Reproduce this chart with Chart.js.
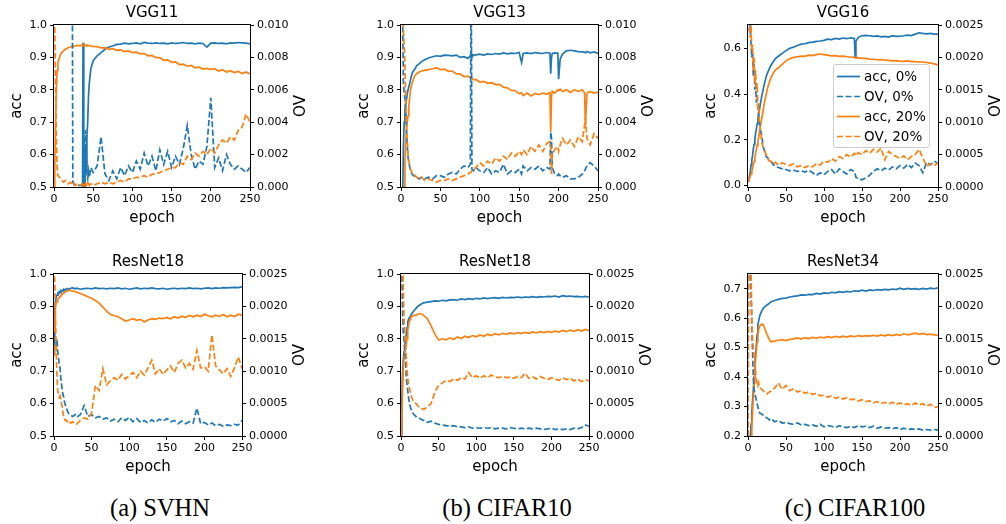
<!DOCTYPE html>
<html>
<head>
<meta charset="utf-8">
<script src="https://cdn.jsdelivr.net/npm/chart.js@4.4.1/dist/chart.umd.min.js"></script>
<style>
  body { margin: 0; background: #fff; }
  #fig { position: relative; width: 1006px; height: 524px; overflow: hidden; background: #fff; }
  #fig canvas { position: absolute; }
  .cap { position: absolute; top: 493px; width: 260px; height: 30px; line-height: 30px; text-align: center;
         font-family: "Liberation Serif", "Times New Roman", serif; font-size: 24.5px; color: #000; }
  #legend { position: absolute; left: 833px; top: 64px; width: 97px; height: 84px; box-sizing: border-box;
            background: rgba(255,255,255,0.8); border: 1px solid #ccc; border-radius: 3px;
            font-family: "DejaVu Sans"; font-size: 13.5px; color: #000; }
  #legend .row { position: absolute; left: 0; height: 18px; line-height: 18px; white-space: nowrap; }
  #legend svg { position: absolute; left: 3px; top: 8px; }
  #legend span { position: absolute; left: 30px; top: 0; }
</style>
</head>
<body>
<div id="fig"></div>
<script>
// ---- data ----
var X_TICKS = [0, 50, 100, 150, 200, 250];
var ACC_TICKS_HI = [0.5, 0.6, 0.7, 0.8, 0.9, 1.0];
var ACC_LABELS_HI = ["0.5", "0.6", "0.7", "0.8", "0.9", "1.0"];
var ACC_TICKS_VGG16 = [0.0, 0.2, 0.4, 0.6];
var ACC_LABELS_VGG16 = ["0.0", "0.2", "0.4", "0.6"];
var ACC_TICKS_RES34 = [0.2, 0.3, 0.4, 0.5, 0.6, 0.7];
var ACC_LABELS_RES34 = ["0.2", "0.3", "0.4", "0.5", "0.6", "0.7"];
var OV_TICKS_BIG = [0, 0.002, 0.004, 0.006, 0.008, 0.010];
var OV_LABELS_BIG = ["0.000", "0.002", "0.004", "0.006", "0.008", "0.010"];
var OV_TICKS_SMALL = [0, 0.0005, 0.0010, 0.0015, 0.0020, 0.0025];
var OV_LABELS_SMALL = ["0.0000", "0.0005", "0.0010", "0.0015", "0.0020", "0.0025"];
var LEGEND_LABELS = ["acc, 0%", "OV, 0%", "acc, 20%", "OV, 20%"];
var CAPTIONS = ["(a) SVHN", "(b) CIFAR10", "(c) CIFAR100"];

// VGG11 / SVHN
var EP_VGG11 = [0,1,2,3,4,5,7,9,12,15, 18,21,23,24,25,27,30,33,36,37, 38,39,40,41,42,43,44,45,47,50,
  55,60,65,70,75,80,85,90,95,100, 105,110,115,120,125,130,135,140,145,150, 155,160,165,170,175,180,185,190,195,200,
  205,210,215,220,225,230,235,240,245,250];
var ACC0_VGG11 = [0.19,0.19,0.19,0.19,0.19,0.19,0.19,0.19,0.19,0.19, 0.19,0.19,0.19,0.19,0.19,0.19,0.19,0.19,0.19,0.945,
  0.20,0.20,0.62,0.55,0.66,0.70,0.78,0.82,0.865,0.89, 0.905,0.915,0.925,0.932,0.935,0.94,0.941,0.944,0.942,0.943,
  0.945,0.942,0.946,0.944,0.943,0.945,0.943,0.944,0.942,0.945, 0.943,0.944,0.946,0.943,0.944,0.942,0.944,0.943,0.932,0.944,
  0.945,0.943,0.944,0.942,0.945,0.944,0.946,0.945,0.944,0.942];
var OV0_VGG11 = [0.02,0.02,0.02,0.02,0.02,0.02,0.02,0.02,0.02,0.02, 0.02,0.02,0.02,0.0003,0.0002,0.0001,0.0001,0.0001,0.0001,0.0002,
  0.0030,0.0018,0.0035,0.0020,0.0008,0.0005,0.0010,0.0006,0.0012,0.0009, 0.0013,0.0031,0.0008,0.0004,0.0010,0.0005,0.0012,0.0007,0.0013,0.0009,
  0.0016,0.0011,0.0021,0.0013,0.0019,0.0010,0.0023,0.0014,0.0022,0.0012, 0.0019,0.0014,0.0024,0.0038,0.0020,0.0011,0.0016,0.0014,0.0025,0.0055,
  0.0012,0.0018,0.0010,0.0020,0.0014,0.0011,0.0013,0.0011,0.0009,0.0012];
var ACC20_VGG11 = [0.45,0.56,0.70,0.80,0.86,0.885,0.90,0.912,0.92,0.926, 0.93,0.932,0.934,0.933,0.935,0.936,0.937,0.936,0.938,0.937,
  0.939,0.936,0.938,0.937,0.936,0.938,0.937,0.936,0.935,0.934, 0.933,0.929,0.930,0.925,0.927,0.922,0.923,0.918,0.920,0.915,
  0.916,0.911,0.912,0.905,0.906,0.899,0.899,0.891,0.892,0.885, 0.886,0.878,0.879,0.873,0.875,0.868,0.870,0.864,0.866,0.863,
  0.865,0.858,0.862,0.855,0.859,0.853,0.857,0.850,0.855,0.849];
var OV20_VGG11 = [0.012,0.0098,0.006,0.003,0.0012,0.0007,0.0006,0.0005,0.0003,0.0004, 0.0002,0.0003,0.0002,0.0002,0.0003,0.0001,0.0002,0.0001,0.0002,0.0001,
  0.0002,0.0001,0.0002,0.0001,0.0002,0.0001,0.0002,0.0001,0.0002,0.0001, 0.0002,0.0003,0.0002,0.0003,0.0002,0.0003,0.0004,0.0003,0.0005,0.0005,
  0.0006,0.0006,0.0007,0.0006,0.0008,0.0008,0.0009,0.0010,0.0011,0.0012, 0.0012,0.0015,0.0014,0.0019,0.0017,0.0021,0.0019,0.0022,0.0020,0.0024,
  0.0021,0.0026,0.0029,0.0027,0.0031,0.0029,0.0035,0.0037,0.0045,0.0040];

// VGG13 / CIFAR10
var EP_VGG13 = [0,1,2,3,4,5,6,7,8,9, 10,12,14,16,18,20,23,26,30,35, 40,45,50,55,60,65,70,75,80,85,
  88,89,90,92,95,100,105,110,115,120, 125,130,135,140,145,150,153,155,160,165, 170,175,180,185,189,190,191,192,195,199,
  200,202,205,210,215,220,225,230,233,234, 236,240,245,250];
var ACC0_VGG13 = [0.30,0.35,0.45,0.62,0.70,0.74,0.76,0.77,0.79,0.80, 0.80,0.83,0.85,0.86,0.865,0.875,0.88,0.887,0.893,0.898,
  0.902,0.905,0.903,0.907,0.906,0.905,0.907,0.900,0.902,0.897, 0.905,0.90,0.91,0.906,0.908,0.91,0.907,0.911,0.909,0.912,
  0.91,0.914,0.911,0.913,0.912,0.915,0.884,0.912,0.914,0.912, 0.915,0.913,0.912,0.915,0.913,0.85,0.90,0.912,0.914,0.913,
  0.833,0.895,0.91,0.92,0.922,0.92,0.918,0.917,0.916,0.914, 0.918,0.914,0.917,0.912];
var OV0_VGG13 = [0.02,0.015,0.011,0.0065,0.0058,0.0055,0.005,0.0035,0.0025,0.0018, 0.0015,0.001,0.0008,0.0007,0.0006,0.0006,0.0005,0.0006,0.0005,0.0006,
  0.0005,0.0007,0.0007,0.0006,0.0008,0.0009,0.0008,0.0011,0.0013,0.0012, 0.0014,0.015,0.0011,0.001,0.0012,0.001,0.0009,0.0012,0.0008,0.001,
  0.0009,0.0014,0.0008,0.001,0.0009,0.0011,0.0008,0.0013,0.001,0.0012, 0.0011,0.0013,0.001,0.0012,0.0011,0.0034,0.003,0.0012,0.0008,0.0007,
  0.0008,0.0007,0.0006,0.0007,0.0005,0.0005,0.0006,0.0008,0.001,0.0011, 0.0013,0.0015,0.0013,0.001];
var ACC20_VGG13 = [0.30,0.35,0.40,0.45,0.50,0.58,0.64,0.68,0.70,0.72, 0.75,0.80,0.82,0.835,0.845,0.85,0.855,0.858,0.86,0.862,
  0.865,0.868,0.862,0.864,0.857,0.858,0.85,0.849,0.841,0.842, 0.837,0.835,0.836,0.831,0.832,0.824,0.826,0.82,0.822,0.816,
  0.817,0.808,0.806,0.798,0.797,0.788,0.79,0.782,0.79,0.781, 0.789,0.785,0.79,0.786,0.792,0.67,0.78,0.795,0.79,0.80,
  0.797,0.802,0.795,0.80,0.792,0.80,0.795,0.80,0.79,0.69, 0.79,0.795,0.79,0.793];
var OV20_VGG13 = [0.015,0.012,0.0105,0.0098,0.0088,0.0075,0.0055,0.0038,0.0028,0.002, 0.0016,0.0011,0.0009,0.0008,0.0007,0.0006,0.0005,0.0006,0.0004,0.0005,
  0.0004,0.0003,0.0004,0.0004,0.0005,0.0004,0.0005,0.0006,0.0007,0.0008, 0.0009,0.0009,0.001,0.0011,0.0012,0.0015,0.0013,0.0016,0.0014,0.0018,
  0.0016,0.0019,0.0017,0.0021,0.0019,0.0022,0.002,0.0023,0.002,0.0025, 0.0022,0.0026,0.0022,0.0027,0.0028,0.0025,0.0008,0.002,0.0023,0.0025,
  0.0022,0.0026,0.003,0.0026,0.0029,0.0025,0.0031,0.0028,0.0038,0.0042, 0.003,0.0026,0.0033,0.003];

// VGG16 / CIFAR100
var EP_VGG16 = [0,1,2,3,4,5,6,7,8,9, 10,11,12,13,14,15,16,18,20,22, 24,26,28,30,33,36,40,45,50,55,
  60,65,70,75,80,85,90,95,100,105, 110,115,120,125,130,135,140,141,142,145, 150,155,160,165,170,175,180,185,190,195,
  200,205,210,215,220,225,230,235,240,245, 250];
var ACC0_VGG16 = [0.02,0.03,0.04,0.06,0.09,0.11,0.13,0.16,0.18,0.20, 0.23,0.245,0.27,0.29,0.31,0.33,0.35,0.39,0.42,0.45,
  0.477,0.495,0.51,0.525,0.54,0.555,0.565,0.578,0.59,0.60, 0.605,0.612,0.618,0.62,0.625,0.627,0.63,0.632,0.635,0.64,
  0.638,0.643,0.64,0.645,0.642,0.646,0.643,0.56,0.63,0.648, 0.655,0.657,0.655,0.652,0.654,0.65,0.652,0.649,0.655,0.652,
  0.653,0.655,0.658,0.656,0.662,0.668,0.665,0.663,0.665,0.662, 0.662];
var OV0_VGG16 = [0.003,0.0027,0.0024,0.0025,0.0022,0.002,0.0021,0.0017,0.0019,0.0015, 0.0016,0.0013,0.0014,0.0012,0.0011,0.001,0.0009,0.0008,0.00062,0.00055,
  0.00047,0.00045,0.00042,0.0004,0.00035,0.00032,0.0003,0.00028,0.00027,0.00025, 0.00026,0.00024,0.00025,0.00023,0.00026,0.00022,0.00018,0.00022,0.00019,0.00024,
  0.00027,0.0002,0.00028,0.00024,0.0002,0.00027,0.00024,0.0002,0.00015,0.00013, 0.00011,0.00014,0.00018,0.00024,0.00028,0.00025,0.00029,0.00026,0.00031,0.00028,
  0.00033,0.00029,0.00035,0.0003,0.00037,0.00033,0.00022,0.00038,0.00034,0.0004, 0.00036];
var ACC20_VGG16 = [0.02,0.025,0.03,0.04,0.05,0.06,0.075,0.09,0.105,0.12, 0.14,0.157,0.175,0.195,0.21,0.235,0.255,0.29,0.33,0.37,
  0.40,0.43,0.45,0.47,0.49,0.505,0.515,0.53,0.545,0.555, 0.56,0.563,0.566,0.565,0.57,0.568,0.572,0.575,0.572,0.57,
  0.567,0.568,0.565,0.566,0.563,0.562,0.56,0.559,0.558,0.558, 0.556,0.556,0.553,0.552,0.55,0.551,0.548,0.547,0.545,0.546,
  0.544,0.543,0.545,0.542,0.542,0.541,0.54,0.538,0.535,0.532, 0.527];
var OV20_VGG16 = [0.003,0.0028,0.0026,0.0023,0.0025,0.0021,0.0022,0.0018,0.002,0.0016, 0.0018,0.0015,0.0016,0.0012,0.0013,0.001,0.0009,0.0007,0.0006,0.00055,
  0.0005,0.00044,0.0004,0.0004,0.00036,0.00038,0.00034,0.00037,0.00035,0.00033, 0.00036,0.00031,0.00033,0.0003,0.00033,0.00031,0.00036,0.00034,0.0004,0.00038,
  0.00044,0.0004,0.00047,0.00044,0.0005,0.00046,0.00052,0.0005,0.00048,0.00053, 0.0005,0.00056,0.00052,0.00058,0.00054,0.0006,0.00042,0.00055,0.0005,0.00047,
  0.00044,0.00048,0.00042,0.00047,0.0005,0.00058,0.00045,0.00032,0.00036,0.00033, 0.00037];

// ResNet panels share one epoch grid
var EP_RES = [0,1,2,3,4,5,6,7,8,9, 10,11,12,13,14,15,16,18,20,22, 25,28,30,35,40,45,50,55,60,65,
  70,75,80,85,90,95,100,105,110,115, 120,125,130,135,140,145,150,155,160,165, 170,175,180,185,190,195,200,205,210,215,
  220,225,230,235,240,245,250];

// ResNet18 / SVHN
var ACC0_RES18S = [0.83,0.89,0.915,0.93,0.935,0.94,0.938,0.945,0.942,0.948, 0.946,0.95,0.948,0.952,0.95,0.953,0.951,0.955,0.953,0.956,
  0.957,0.954,0.956,0.953,0.955,0.956,0.954,0.957,0.955,0.956, 0.954,0.956,0.955,0.957,0.954,0.956,0.953,0.955,0.957,0.954,
  0.956,0.955,0.957,0.955,0.954,0.956,0.953,0.955,0.956,0.954, 0.956,0.955,0.957,0.955,0.956,0.954,0.956,0.957,0.955,0.957,
  0.956,0.958,0.957,0.958,0.959,0.958,0.96];
var OV0_RES18S = [0.0014,0.0016,0.0015,0.0014,0.0015,0.0013,0.0012,0.0011,0.00105,0.0009, 0.0008,0.0007,0.00063,0.0006,0.00052,0.00048,0.00045,0.00038,0.00034,0.00032,
  0.0003,0.00033,0.00029,0.00033,0.00047,0.0003,0.00033,0.00028,0.0003,0.00026, 0.00028,0.00023,0.00026,0.00022,0.00028,0.00024,0.00029,0.00022,0.00027,0.00021,
  0.00024,0.0002,0.00025,0.00021,0.00026,0.00023,0.00027,0.00022,0.00024,0.00019, 0.00023,0.00019,0.00022,0.0002,0.00043,0.00019,0.00021,0.00017,0.0002,0.00016,
  0.00018,0.00015,0.00017,0.00016,0.00018,0.00017,0.00024];
var ACC20_RES18S = [0.75,0.86,0.90,0.91,0.915,0.92,0.925,0.928,0.93,0.933, 0.935,0.937,0.94,0.942,0.943,0.945,0.946,0.948,0.95,0.949,
  0.947,0.946,0.944,0.94,0.935,0.93,0.925,0.918,0.91,0.898, 0.885,0.875,0.872,0.868,0.862,0.855,0.858,0.862,0.857,0.86,
  0.852,0.858,0.862,0.86,0.864,0.862,0.866,0.862,0.868,0.864, 0.87,0.866,0.872,0.868,0.873,0.869,0.876,0.871,0.868,0.873,
  0.869,0.875,0.868,0.873,0.869,0.876,0.872];
var OV20_RES18S = [0.0026,0.0024,0.0018,0.0013,0.0009,0.0007,0.00065,0.0006,0.00062,0.00055, 0.0005,0.00045,0.00035,0.0003,0.00026,0.00024,0.00025,0.00022,0.00024,0.0002,
  0.00022,0.00019,0.00018,0.00024,0.00028,0.00026,0.00035,0.00078,0.0007,0.00104, 0.00079,0.00085,0.0009,0.00086,0.00095,0.00088,0.00093,0.00098,0.0009,0.001,
  0.00094,0.00105,0.00117,0.00096,0.00104,0.00095,0.00102,0.00108,0.00098,0.00112, 0.00117,0.00105,0.00112,0.00103,0.00132,0.00105,0.00107,0.001,0.00156,0.00108,
  0.00102,0.00096,0.00104,0.00092,0.00105,0.00122,0.00104];

// ResNet18 / CIFAR10
var ACC0_RES18C = [0.45,0.60,0.69,0.734,0.76,0.78,0.796,0.815,0.835,0.853, 0.86,0.865,0.868,0.873,0.876,0.88,0.883,0.889,0.894,0.90,
  0.904,0.909,0.911,0.913,0.915,0.917,0.916,0.919,0.917,0.92, 0.921,0.919,0.923,0.921,0.924,0.922,0.925,0.923,0.926,0.924,
  0.926,0.927,0.925,0.928,0.926,0.928,0.927,0.929,0.927,0.929, 0.928,0.93,0.928,0.93,0.929,0.931,0.93,0.932,0.929,0.933,
  0.931,0.932,0.93,0.931,0.929,0.931,0.929];
var OV0_RES18C = [0.003,0.0026,0.002,0.0016,0.0015,0.0013,0.0012,0.0009,0.0008,0.0007, 0.0006,0.00052,0.00047,0.00042,0.0004,0.00037,0.00035,0.00032,0.0003,0.00028,
  0.00027,0.00025,0.00024,0.00021,0.00023,0.0002,0.00018,0.00017,0.00016,0.00015, 0.00016,0.00014,0.00014,0.00013,0.00014,0.00012,0.00013,0.00012,0.00013,0.00012,
  0.00013,0.00011,0.00012,0.00012,0.00011,0.00013,0.00012,0.00011,0.00012,0.00011, 0.00012,0.00011,0.00012,0.00011,0.0001,0.00011,0.00012,0.0001,0.00011,0.0001,
  0.00011,0.0001,0.00012,0.00011,0.00013,0.00017,0.00015];
var ACC20_RES18C = [0.45,0.55,0.64,0.70,0.744,0.76,0.77,0.78,0.80,0.827, 0.84,0.85,0.86,0.866,0.868,0.87,0.871,0.873,0.872,0.876,
  0.878,0.876,0.872,0.862,0.84,0.815,0.796,0.80,0.797,0.803, 0.798,0.806,0.801,0.808,0.804,0.81,0.806,0.812,0.808,0.814,
  0.81,0.816,0.812,0.817,0.814,0.818,0.815,0.819,0.816,0.82, 0.817,0.821,0.818,0.822,0.819,0.823,0.82,0.824,0.821,0.826,
  0.822,0.827,0.823,0.828,0.824,0.829,0.825];
var OV20_RES18C = [0.005,0.004,0.0028,0.00235,0.00184,0.0016,0.0014,0.00122,0.001,0.0009, 0.0008,0.00075,0.0007,0.00065,0.0006,0.00058,0.00055,0.00052,0.0005,0.00047,
  0.00043,0.00042,0.00041,0.00045,0.0005,0.00068,0.00078,0.00082,0.00086,0.00084, 0.00088,0.00086,0.0009,0.00088,0.00098,0.0009,0.00093,0.00089,0.00093,0.0009,
  0.00094,0.00091,0.0009,0.00092,0.0009,0.00091,0.00089,0.00092,0.0009,0.00097, 0.00089,0.00091,0.00088,0.00092,0.00089,0.00087,0.0009,0.00088,0.00086,0.0009,
  0.00087,0.00089,0.00085,0.00088,0.00084,0.00087,0.00085];

// ResNet34 / CIFAR100
var ACC0_RES34 = [0.10,0.12,0.15,0.19,0.24,0.28,0.32,0.355,0.40,0.45, 0.48,0.51,0.545,0.577,0.59,0.603,0.612,0.624,0.633,0.638,
  0.645,0.65,0.655,0.66,0.664,0.667,0.668,0.672,0.674,0.676, 0.679,0.678,0.681,0.68,0.684,0.682,0.686,0.684,0.688,0.686,
  0.69,0.688,0.691,0.689,0.693,0.691,0.695,0.692,0.696,0.694, 0.697,0.695,0.698,0.696,0.699,0.697,0.702,0.698,0.701,0.699,
  0.70,0.698,0.701,0.699,0.702,0.70,0.703];
var OV0_RES34 = [0,0.0035,0.003,0.0026,0.0022,0.0017,0.0013,0.0009,0.0007,0.00067, 0.0006,0.00055,0.0005,0.00045,0.0004,0.00036,0.00035,0.00034,0.00032,0.0003,
  0.00028,0.00025,0.00027,0.00022,0.00024,0.0002,0.00021,0.00019,0.00018,0.0002, 0.00017,0.00018,0.00016,0.00017,0.00015,0.00018,0.00014,0.00016,0.00015,0.00013,
  0.00016,0.00014,0.00013,0.00015,0.00013,0.00016,0.00014,0.00015,0.00013,0.00015, 0.00012,0.00014,0.00012,0.00013,0.00011,0.00013,0.0001,0.00012,0.0001,0.00011,
  0.0001,0.00011,0.00009,0.0001,0.00009,0.0001,0.00009];
var ACC20_RES34 = [0.08,0.10,0.12,0.15,0.18,0.22,0.28,0.33,0.38,0.42, 0.46,0.49,0.52,0.544,0.56,0.57,0.575,0.58,0.578,0.565,
  0.545,0.528,0.52,0.522,0.525,0.527,0.524,0.528,0.53,0.533, 0.529,0.534,0.531,0.535,0.532,0.536,0.533,0.537,0.534,0.538,
  0.535,0.539,0.536,0.54,0.537,0.541,0.538,0.541,0.539,0.542, 0.539,0.543,0.54,0.544,0.541,0.545,0.542,0.547,0.543,0.546,
  0.549,0.545,0.548,0.544,0.546,0.543,0.542];
var OV20_RES34 = [0,0.0037,0.0033,0.003,0.0026,0.00184,0.0015,0.00133,0.00125,0.00118, 0.001,0.00087,0.0008,0.00077,0.00082,0.00076,0.00074,0.00072,0.0007,0.00067,
  0.00065,0.00068,0.00069,0.00074,0.00082,0.00072,0.00078,0.0007,0.00073,0.00068, 0.0007,0.00066,0.00068,0.00064,0.00066,0.00062,0.00063,0.0006,0.00062,0.00058,
  0.0006,0.00057,0.00059,0.00056,0.00057,0.00054,0.00056,0.00053,0.00054,0.00051, 0.00053,0.0005,0.00052,0.00049,0.00052,0.00049,0.00051,0.00048,0.0005,0.00047,
  0.00051,0.00048,0.0005,0.00046,0.00049,0.00044,0.00045];

// ---- style / layout ----
var BLUE = "#1f77b4", ORANGE = "#ff7f0e";
var DASH = [6, 2.6];
var SIDE = 70, TOP = 25, BOTTOM = 50;   // fixed box sizes around each plot area

Chart.defaults.font.family = '"DejaVu Sans", sans-serif';
Chart.defaults.color = "#000";

var PANELS = [
  { title: "VGG11", x: 54, y: 25, w: 196, h: 162, ep: EP_VGG11, acc0: ACC0_VGG11, ov0: OV0_VGG11, acc20: ACC20_VGG11, ov20: OV20_VGG11,
    accMin: 0.5, accMax: 1.0, accTicks: ACC_TICKS_HI, accLabels: ACC_LABELS_HI, ovMax: 0.010, ovTicks: OV_TICKS_BIG, ovLabels: OV_LABELS_BIG },
  { title: "VGG13", x: 401, y: 25, w: 197, h: 162, ep: EP_VGG13, acc0: ACC0_VGG13, ov0: OV0_VGG13, acc20: ACC20_VGG13, ov20: OV20_VGG13,
    accMin: 0.5, accMax: 1.0, accTicks: ACC_TICKS_HI, accLabels: ACC_LABELS_HI, ovMax: 0.010, ovTicks: OV_TICKS_BIG, ovLabels: OV_LABELS_BIG },
  { title: "VGG16", x: 748, y: 25, w: 190, h: 162, ep: EP_VGG16, acc0: ACC0_VGG16, ov0: OV0_VGG16, acc20: ACC20_VGG16, ov20: OV20_VGG16,
    accMin: -0.007, accMax: 0.702, accTicks: ACC_TICKS_VGG16, accLabels: ACC_LABELS_VGG16, ovMax: 0.0025, ovTicks: OV_TICKS_SMALL, ovLabels: OV_LABELS_SMALL },
  { title: "ResNet18", x: 54, y: 274, w: 188, h: 162, ep: EP_RES, acc0: ACC0_RES18S, ov0: OV0_RES18S, acc20: ACC20_RES18S, ov20: OV20_RES18S,
    accMin: 0.5, accMax: 1.0, accTicks: ACC_TICKS_HI, accLabels: ACC_LABELS_HI, ovMax: 0.0025, ovTicks: OV_TICKS_SMALL, ovLabels: OV_LABELS_SMALL },
  { title: "ResNet18", x: 401, y: 274, w: 188, h: 162, ep: EP_RES, acc0: ACC0_RES18C, ov0: OV0_RES18C, acc20: ACC20_RES18C, ov20: OV20_RES18C,
    accMin: 0.5, accMax: 1.0, accTicks: ACC_TICKS_HI, accLabels: ACC_LABELS_HI, ovMax: 0.0025, ovTicks: OV_TICKS_SMALL, ovLabels: OV_LABELS_SMALL },
  { title: "ResNet34", x: 748, y: 274, w: 190, h: 162, ep: EP_RES, acc0: ACC0_RES34, ov0: OV0_RES34, acc20: ACC20_RES34, ov20: OV20_RES34,
    accMin: 0.2, accMax: 0.75, accTicks: ACC_TICKS_RES34, accLabels: ACC_LABELS_RES34, ovMax: 0.0025, ovTicks: OV_TICKS_SMALL, ovLabels: OV_LABELS_SMALL }
];

// box around the plot area (matplotlib spines) + right-hand "OV" label reading bottom-to-top
var frameAndOv = {
  id: "frameAndOv",
  afterDraw: function (chart) {
    var a = chart.chartArea, ctx = chart.ctx, s = chart.scales.yr;
    ctx.save();
    ctx.strokeStyle = "#000";
    ctx.lineWidth = 1;
    ctx.strokeRect(Math.round(a.left) - 0.5, Math.round(a.top) - 0.5, Math.round(a.right - a.left) + 1, Math.round(a.bottom - a.top) + 1);
    ctx.font = '11px "DejaVu Sans"';
    var w = 0;
    s.ticks.forEach(function (t) { w = Math.max(w, ctx.measureText(String(t.label)).width); });
    ctx.font = '15px "DejaVu Sans"';
    ctx.fillStyle = "#000";
    ctx.textAlign = "center";
    ctx.textBaseline = "middle";
    ctx.translate(a.right + 7 + w + 13, (a.top + a.bottom) / 2);
    ctx.rotate(-Math.PI / 2);
    ctx.fillText("OV", 0, 0);
    ctx.restore();
  }
};

function tickGrid() {
  return { drawOnChartArea: false, drawTicks: true, tickLength: 4, color: "#000", lineWidth: 1 };
}

function makePanel(p) {
  var fig = document.getElementById("fig");
  var cv = document.createElement("canvas");
  cv.width = p.w + 2 * SIDE;
  cv.height = p.h + TOP + BOTTOM;
  cv.style.left = (p.x - SIDE) + "px";
  cv.style.top = (p.y - TOP) + "px";
  fig.appendChild(cv);

  function pts(ys) { return p.ep.map(function (e, i) { return { x: e, y: ys[i] }; }); }
  function line(label, ys, axis, color, dashed) {
    return { label: label, data: pts(ys), yAxisID: axis, borderColor: color, backgroundColor: color,
             borderWidth: 1.7, borderDash: dashed ? DASH : [], pointRadius: 0, tension: 0, fill: false, clip: 0 };
  }

  new Chart(cv.getContext("2d"), {
    type: "line",
    // lower index is painted last, so OV lines land on top as in the twin axes
    data: { datasets: [
      line("OV, 20%", p.ov20, "yr", ORANGE, true),
      line("OV, 0%", p.ov0, "yr", BLUE, true),
      line("acc, 20%", p.acc20, "y", ORANGE, false),
      line("acc, 0%", p.acc0, "y", BLUE, false)
    ] },
    options: {
      responsive: false,
      animation: false,
      events: [],
      layout: { padding: 0 },
      plugins: {
        legend: { display: false },
        tooltip: { enabled: false },
        title: { display: true, text: p.title, color: "#000",
                 font: { size: 15, weight: "normal", lineHeight: 1.2 }, padding: { top: 4, bottom: 3 } }
      },
      scales: {
        x: {
          type: "linear", position: "bottom", min: 0, max: 250,
          afterBuildTicks: function (s) { s.ticks = X_TICKS.map(function (v) { return { value: v }; }); },
          afterFit: function (s) { s.height = BOTTOM; },
          ticks: { font: { size: 11 }, color: "#000", padding: 2, maxRotation: 0, autoSkip: false,
                   callback: function (v) { return String(v); } },
          grid: tickGrid(),
          border: { display: false },
          title: { display: true, text: "epoch", color: "#000", font: { size: 15, lineHeight: 1.2 }, padding: { top: 0, bottom: 10 } }
        },
        y: {
          type: "linear", position: "left", min: p.accMin, max: p.accMax,
          afterBuildTicks: function (s) { s.ticks = p.accTicks.map(function (v) { return { value: v }; }); },
          afterFit: function (s) { s.width = SIDE; },
          ticks: { font: { size: 11 }, color: "#000", padding: 3, autoSkip: false,
                   callback: function (v, i) { return p.accLabels[i]; } },
          grid: tickGrid(),
          border: { display: false },
          title: { display: true, text: "acc", color: "#000", font: { size: 15, lineHeight: 1.2 }, padding: { top: 24, bottom: 0 } }
        },
        yr: {
          type: "linear", position: "right", min: 0, max: p.ovMax,
          afterBuildTicks: function (s) { s.ticks = p.ovTicks.map(function (v) { return { value: v }; }); },
          afterFit: function (s) { s.width = SIDE; },
          ticks: { font: { size: 11 }, color: "#000", padding: 3, autoSkip: false,
                   callback: function (v, i) { return p.ovLabels[i]; } },
          grid: tickGrid(),
          border: { display: false },
          title: { display: false }
        }
      }
    },
    plugins: [frameAndOv]
  });
}

PANELS.forEach(makePanel);

// legend box inside the VGG16 panel, and the sub-figure captions
(function () {
  var fig = document.getElementById("fig");
  var lg = document.createElement("div");
  lg.id = "legend";
  var styles = [[BLUE, false], [BLUE, true], [ORANGE, false], [ORANGE, true]];
  LEGEND_LABELS.forEach(function (txt, i) {
    var row = document.createElement("div");
    row.className = "row";
    row.style.top = (2 + i * 20) + "px";
    var dash = styles[i][1] ? ' stroke-dasharray="' + DASH.join(",") + '"' : "";
    row.innerHTML = '<svg width="23" height="3"><line x1="0" y1="1.5" x2="23" y2="1.5" stroke="' + styles[i][0] +
      '" stroke-width="1.7"' + dash + '/></svg><span>' + txt + '</span>';
    lg.appendChild(row);
  });
  fig.appendChild(lg);

  var centers = [160, 507, 855];
  CAPTIONS.forEach(function (c, i) {
    var d = document.createElement("div");
    d.className = "cap";
    d.style.left = (centers[i] - 130) + "px";
    d.textContent = c;
    fig.appendChild(d);
  });
})();
</script>
</body>
</html>
